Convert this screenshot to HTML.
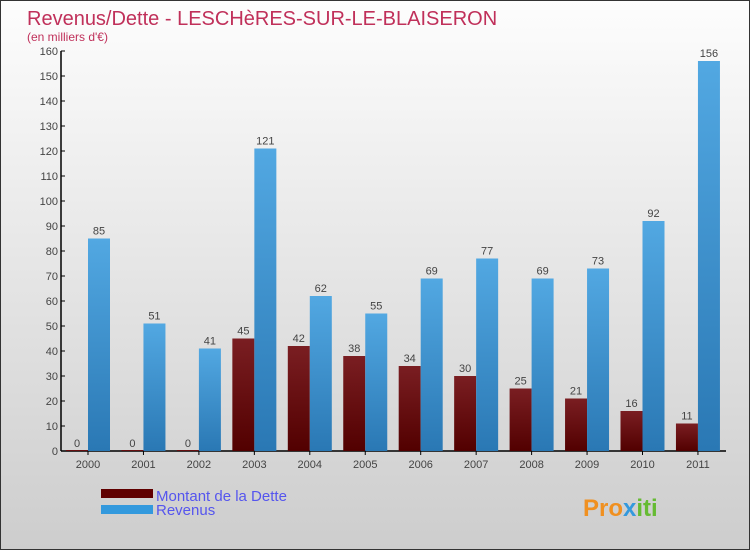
<!DOCTYPE html>
<html><head><meta charset="utf-8"><style>
body{margin:0}
#c{width:750px;height:550px;position:relative;background:linear-gradient(#fdfdfd,#cdcdcd);box-sizing:border-box;border:1px solid #333;font-family:"Liberation Sans",sans-serif;overflow:hidden}
svg text{font-family:"Liberation Sans",sans-serif}
</style></head><body>
<div id="c">
<svg id="s" width="750" height="550" style="position:absolute;left:0;top:0">
<defs>
<linearGradient id="gd" x1="0" y1="0" x2="0" y2="1"><stop offset="0" stop-color="#7a1e22"/><stop offset="1" stop-color="#520000"/></linearGradient>
<linearGradient id="gr" x1="0" y1="0" x2="0" y2="1"><stop offset="0" stop-color="#52a8e2"/><stop offset="1" stop-color="#2a78b4"/></linearGradient>
</defs>
<text x="26" y="24" font-size="20" fill="#c0305a">Revenus/Dette - LESCHèRES-SUR-LE-BLAISERON</text>
<text x="26" y="40" font-size="12" fill="#c0305a">(en milliers d'€)</text>
<g id="g"></g>
<rect x="100" y="488" width="52" height="9" fill="#600000"/>
<rect x="100" y="504" width="52" height="9" fill="#3399dd"/>
<text x="155" y="500" font-size="15" fill="#5555ee">Montant de la Dette</text>
<text x="155" y="514" font-size="15" fill="#5555ee">Revenus</text>
<text x="582" y="515" font-size="24" font-weight="bold" fill="#f09020">Pro<tspan fill="#3399dd">x</tspan><tspan fill="#66bb33">iti</tspan></text>
</svg></div>
<script>
const years=["2000","2001","2002","2003","2004","2005","2006","2007","2008","2009","2010","2011"];
const dette=[0,0,0,45,42,38,34,30,25,21,16,11];
const revenus=[85,51,41,121,62,55,69,77,69,73,92,156];
const yTicks=[0,10,20,30,40,50,60,70,80,90,100,110,120,130,140,150,160];
const NS="http://www.w3.org/2000/svg",g=document.getElementById('g');
const y=v=>450-v*2.5, x=i=>87+i*55.45;
function mk(t,a,p){const e=document.createElementNS(NS,t);for(const k in a)e.setAttribute(k,a[k]);(p||g).appendChild(e);return e;}
const ax=mk('line',{x1:60,y1:50,x2:60,y2:450,stroke:'#000','stroke-width':1.5});


const bx=mk('line',{x1:60,y1:450,x2:725,y2:450,stroke:'#000','stroke-width':1.5});


yTicks.forEach(v=>{mk('line',{x1:60,y1:y(v),x2:64,y2:y(v),stroke:'#000'});
const t=mk('text',{x:57,y:y(v)+4,'font-size':11,fill:'#444','text-anchor':'end'});t.textContent=v;

});
years.forEach((yr,i)=>{const cx=x(i);
mk('line',{x1:cx,y1:450,x2:cx,y2:454,stroke:'#000'});
const t=mk('text',{x:cx,y:467,'font-size':11,fill:'#444','text-anchor':'middle'});t.textContent=yr;


const d=mk('rect',{x:cx-22,y:y(dette[i])-(dette[i]?0:1),width:22,height:Math.max(1,dette[i]*2.5),fill:'url(#gd)'});


const r=mk('rect',{x:cx,y:y(revenus[i]),width:22,height:revenus[i]*2.5,fill:'url(#gr)'});


const l1=mk('text',{x:cx-11,y:y(dette[i])-4,'font-size':11,fill:'#444','text-anchor':'middle'});l1.textContent=dette[i];


const l2=mk('text',{x:cx+11,y:y(revenus[i])-4,'font-size':11,fill:'#444','text-anchor':'middle'});l2.textContent=revenus[i];

});
</script>
</body></html>
